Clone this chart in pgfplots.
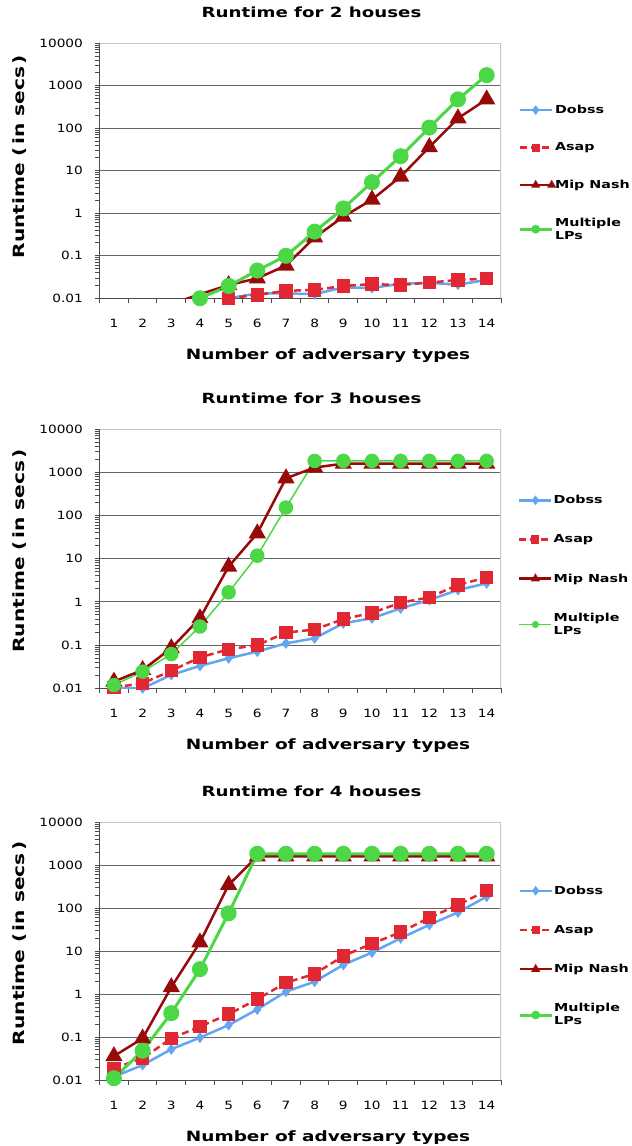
\documentclass[border=0pt]{standalone}
\usepackage{fontspec}
\setmainfont{DejaVu Sans}[FakeStretch=1.2, BoldFeatures={FakeStretch=1.3}]
\usepackage{pgfplots}
\pgfplotsset{compat=1.18}
\definecolor{dobss}{RGB}{100,165,240}
\definecolor{asap}{RGB}{225,40,50}
\definecolor{mip}{RGB}{150,10,10}
\definecolor{mlp}{RGB}{75,215,70}
\pgfplotsset{
  legend image code/.code={\draw[mark repeat=2,mark phase=2,#1, mark size=2.8bp] plot coordinates {(0bp,0bp) (16bp,0bp) (32bp,0bp)};},
  runstyle/.style={
    scale only axis, width=401.4bp,
    ymin=0.01, ymax=10000,
    xmin=0.5, xmax=14.5,
    xtick={1,...,14}, minor xtick={0.5,1.5,...,14.5},
    ytick={0.01,0.1,1,10,100,1000,10000},
    yticklabels={0.01,0.1,1,10,100,1000,10000},
    axis x line*=bottom, axis y line*=left,
    axis line style={black!70, line width=1bp},
    tick align=outside,
    major tick length=5bp, minor tick length=5bp,
    tick style={black!70, line width=1bp},
    major x tick style={draw=none},
    ymajorgrids, major grid style={black!60, line width=1bp},
    /pgf/number format/assume math mode=true,
    tick label style={font=\fontsize{11.4bp}{13bp}\selectfont},
    yticklabel style={inner sep=0pt, anchor=east, xshift=-11.5bp},
    xticklabel style={inner sep=0pt, anchor=north, yshift=-16bp},
    title style={font=\fontsize{14bp}{16bp}\selectfont\bfseries, at={(axis description cs:0.528,1)}, anchor=base, yshift=20bp},
    xlabel style={font=\fontsize{14.2bp}{16bp}\selectfont\bfseries, at={(axis description cs:0.569,0)}, anchor=base, yshift=-61bp},
    ylabel style={font=\fontsize{15.5bp}{17bp}\selectfont\bfseries, at={(axis description cs:-0.2,0.53)}, rotate=0, anchor=center},
    xlabel={Number of adversary types},
    ylabel={Runtime (\hspace{0.15em}in secs\hspace{0.15em})},
    legend cell align=left,
    legend style={draw=none, fill=none, inner sep=0pt, row sep=27.5bp,
      font=\fontsize{11bp}{13bp}\selectfont\bfseries,
      nodes={inner sep=1bp}, cells={align=left},
      at={(axis description cs:1.0423,0.77)}, anchor=north west},
  },
  dob/.style={color=dobss, line width=2.5bp, mark=diamond*, mark size=3.5bp, mark options={fill=dobss}},
  asp/.style={color=asap, line width=2.5bp, dash pattern=on 7bp off 4bp, mark=square*, mark size=5.5bp, mark options={solid, fill=asap}},
  mipn/.style={color=mip, line width=2.5bp, mark=triangle*, mark size=7.5bp, mark options={fill=mip}},
  mlps/.style={color=mlp, line width=3bp, mark=*, mark size=6.5bp, mark options={fill=mlp}},
}
\begin{document}
\begin{tikzpicture}
\path[use as bounding box] (0,0) rectangle (632bp,1146bp);
% ---------- 2 houses ----------
\begin{semilogyaxis}[runstyle, at={(99.6bp,847.7bp)}, anchor=south west, height=255bp,
  title={Runtime for 2 houses},
  ylabel style={at={(axis description cs:-0.2,0.555)}},
  legend style={row sep=25.8bp, at={(axis description cs:1.0423,0.762)}}]
\addplot+[dob] coordinates {(5,0.01) (6,0.013) (7,0.013) (8,0.0125) (9,0.018) (10,0.0175) (11,0.022) (12,0.023) (13,0.021) (14,0.027)};
\addplot+[asp] coordinates {(5,0.01) (6,0.012) (7,0.015) (8,0.0157) (9,0.0195) (10,0.0215) (11,0.0206) (12,0.0234) (13,0.027) (14,0.029)};
\addplot+[mipn, mark indices={2,...,12}] coordinates {(3,0.0073) (4,0.0125) (5,0.0205) (6,0.0295) (7,0.059) (8,0.27) (9,0.83) (10,2.1) (11,7.3) (12,36) (13,172) (14,480)};
\addplot+[mlps] coordinates {(4,0.01) (5,0.0195) (6,0.045) (7,0.1) (8,0.37) (9,1.3) (10,5.4) (11,22) (12,104) (13,480) (14,1780)};
\legend{Dobss,Asap,Mip Nash,Multiple\\LPs}
\draw[black!22, line width=1.2bp] (rel axis cs:0,1) -- (rel axis cs:1,1) -- (rel axis cs:1,0);
\end{semilogyaxis}
% ---------- 3 houses ----------
\begin{semilogyaxis}[runstyle, at={(99.6bp,457.7bp)}, anchor=south west, height=259bp,
  title={Runtime for 3 houses},
  legend style={at={(axis description cs:1.0423,0.7495)}}]
\addplot+[dob] coordinates {(1,0.01) (2,0.01) (3,0.0204) (4,0.033) (5,0.0495) (6,0.071) (7,0.11) (8,0.144) (9,0.32) (10,0.42) (11,0.71) (12,1.11) (13,1.9) (14,2.7)};
\addplot+[asp] coordinates {(1,0.0105) (2,0.013) (3,0.0256) (4,0.052) (5,0.08) (6,0.1) (7,0.195) (8,0.23) (9,0.40) (10,0.56) (11,0.96) (12,1.28) (13,2.48) (14,3.7)};
\addplot+[mipn] coordinates {(1,0.0143) (2,0.0266) (3,0.085) (4,0.42) (5,6.6) (6,39) (7,733) (8,1300) (9,1600) (10,1600) (11,1600) (12,1600) (13,1600) (14,1600)};
\addplot+[mlps, line width=1.5bp] coordinates {(1,0.0119) (2,0.0243) (3,0.062) (4,0.27) (5,1.67) (6,11.8) (7,154) (8,1850) (9,1850) (10,1850) (11,1850) (12,1850) (13,1850) (14,1850)};
\legend{Dobss,Asap,Mip Nash,Multiple\\LPs}
\draw[black!22, line width=1.2bp] (rel axis cs:0,1) -- (rel axis cs:1,1) -- (rel axis cs:1,0);
\end{semilogyaxis}
% ---------- 4 houses ----------
\begin{semilogyaxis}[runstyle, at={(99.6bp,66bp)}, anchor=south west, height=257.7bp,
  title={Runtime for 4 houses},
  legend style={at={(axis description cs:1.0423,0.758)}}]
\addplot+[dob] coordinates {(1,0.0119) (2,0.0223) (3,0.052) (4,0.097) (5,0.19) (6,0.44) (7,1.14) (8,1.95) (9,4.8) (10,9.3) (11,20) (12,41) (13,80) (14,186)};
\addplot+[asp] coordinates {(1,0.0187) (2,0.032) (3,0.093) (4,0.175) (5,0.34) (6,0.76) (7,1.85) (8,2.95) (9,7.7) (10,15) (11,27.6) (12,60) (13,119) (14,257)};
\addplot+[mipn] coordinates {(1,0.036) (2,0.093) (3,1.45) (4,16) (5,350) (6,1600) (7,1600) (8,1600) (9,1600) (10,1600) (11,1600) (12,1600) (13,1600) (14,1600)};
\addplot+[mlps] coordinates {(1,0.011) (2,0.048) (3,0.36) (4,3.8) (5,76) (6,1850) (7,1850) (8,1850) (9,1850) (10,1850) (11,1850) (12,1850) (13,1850) (14,1850)};
\legend{Dobss,Asap,Mip Nash,Multiple\\LPs}
\draw[black!22, line width=1.2bp] (rel axis cs:0,1) -- (rel axis cs:1,1) -- (rel axis cs:1,0);
\end{semilogyaxis}
\end{tikzpicture}
\end{document}
